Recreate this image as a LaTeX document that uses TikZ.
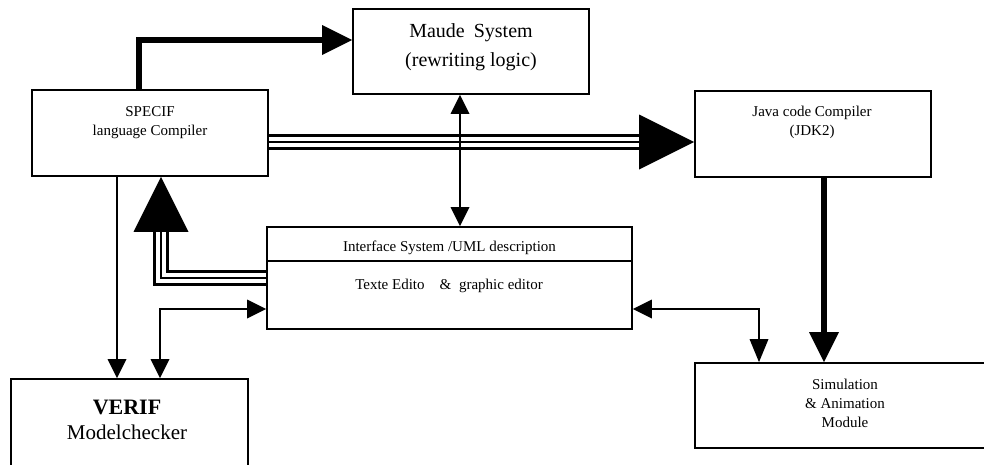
\documentclass[tikz,border=0pt]{standalone}
\usepackage{fontspec}
\setmainfont{Liberation Serif}
\usetikzlibrary{arrows.meta}
\begin{document}
\begin{tikzpicture}[x=1pt,y=-1pt,
  box/.style={draw, line width=1.8pt, rectangle, inner sep=0pt},
  txt/.style={align=center, inner sep=0pt, font=\fontsize{15}{19}\selectfont},
  thinline/.style={line width=1.8pt},
  thickline/.style={line width=5.5pt},
  tripleblack/.style={line width=15.5pt},
  triplewhite/.style={line width=10.5pt, white},
  triplecenter/.style={line width=2.5pt},
  smalltip/.tip={Triangle[length=19pt,width=19pt,line width=0pt]},
  bigtip/.tip={Triangle[length=30pt,width=30pt,line width=0pt]},
  hugetip/.tip={Triangle[length=55pt,width=55pt,line width=0pt]}
]
\useasboundingbox (0,0) rectangle (984,464);
\clip (0,0) rectangle (984,464);

% boxes
\node[box, minimum width=236pt, minimum height=86pt] (specif) at (150,133) {};
\node[txt] (specift) at (150,122.5) {SPECIF\\language Compiler};

\node[box, minimum width=236pt, minimum height=85pt] (maude) at (471,51.5) {};
\node[txt, font=\fontsize{20}{29}\selectfont] (maudet) at (471,47.5) {Maude\hspace{9pt}System\\(rewriting logic)};

\node[box, minimum width=236pt, minimum height=86pt] (java) at (813,134) {};
\node[txt] (javat) at (812,122.5) {Java code Compiler\\(JDK2)};

\node[box, minimum width=365pt, minimum height=102pt] (iface) at (449.5,278) {};
\node[txt] (ifacet) at (449.5,248) {Interface System /UML description};
\node[txt] (ifaceb) at (449,286) {Texte Edito\hspace{15pt}\&\hspace{4pt} graphic editor};

\node[box, minimum width=237pt, minimum height=87pt] (verif) at (129.5,422.5) {};
\node[txt, font=\fontsize{21}{25}\selectfont] (veriftxt) at (127,419.5) {{\bfseries\fontsize{22}{25}\selectfont VERIF}\\Modelchecker};

\node[box, minimum width=300pt, minimum height=85pt] (sim) at (845,405.5) {};
\node[txt] (simt) at (845,403) {Simulation\\\& Animation\\Module};

% divider in interface box
\draw[thinline] (iface.west |- 0,261) -- (iface.east |- 0,261);

% SPECIF -> Maude (thick)
\draw[thickline, -{bigtip}] (139,0 |- specif.north) |- (maude.west |- 0,40);

% SPECIF -> Java (triple)
\draw[tripleblack, -{hugetip}] (specif.east |- 0,142) -- (java.west |- 0,142);
\draw[triplewhite, shorten >=55pt] (specif.east |- 0,142) -- (java.west |- 0,142);
\draw[triplecenter, shorten >=55pt] (specif.east |- 0,142) -- (java.west |- 0,142);

% Interface -> SPECIF (triple)
\draw[tripleblack, -{hugetip}] (iface.west |- 0,278) -| (161,0 |- specif.south);
\draw[triplewhite, shorten >=55pt] (iface.west |- 0,278) -| (161,0 |- specif.south);
\draw[triplecenter, shorten >=55pt] (iface.west |- 0,278) -| (161,0 |- specif.south);

% Maude <-> Interface
\draw[thinline, {smalltip}-{smalltip}] (460,0 |- maude.south) -- (460,0 |- iface.north);

% SPECIF -> VERIF
\draw[thinline, -{smalltip}] (117,0 |- specif.south) -- (117,0 |- verif.north);

% VERIF <-> Interface
\draw[thinline, {smalltip}-{smalltip}] (160,0 |- verif.north) |- (iface.west |- 0,309);

% Interface <-> Simulation
\draw[thinline, {smalltip}-{Triangle[length=23pt,width=19pt,line width=0pt]}] (iface.east |- 0,309) -| (759,0 |- sim.north);

% Java -> Simulation (thick)
\draw[line width=6.5pt, -{bigtip}] (824,0 |- java.south) -- (824,0 |- sim.north);
\end{tikzpicture}
\end{document}
